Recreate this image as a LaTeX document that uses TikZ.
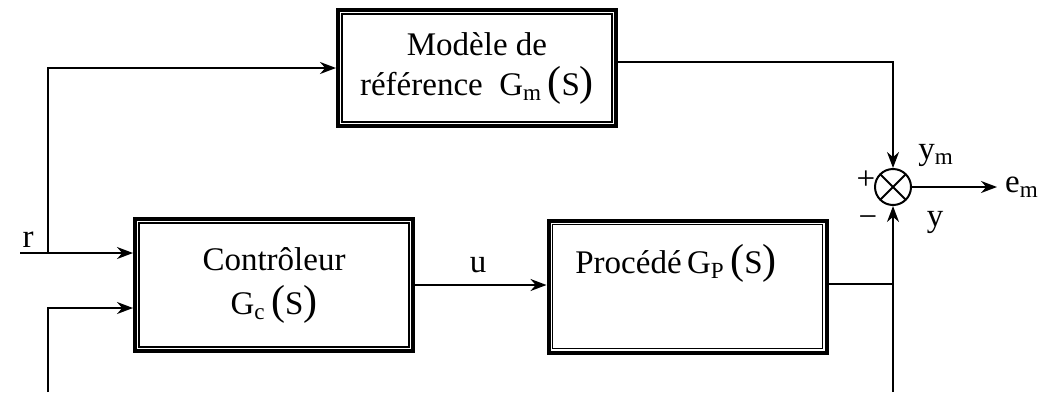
\documentclass[tikz,border=0pt]{standalone}
\usepackage{fontspec}
\setmainfont{Liberation Serif}
\usetikzlibrary{arrows.meta,positioning}

% grosses parentheses autour de S
\newcommand{\fonct}[1]{G\textsubscript{#1}\,{\fontsize{21}{21}\selectfont(}S{\fontsize{21}{21}\selectfont)}}

\tikzset{
  bloc/.style={draw, line width=2pt, minimum width=139pt, minimum height=66pt, align=center, inner sep=0pt},
  cadre/.style={line width=0.9pt},
  lien/.style={line width=1pt},
  fleche/.style={lien, -{Stealth[length=8pt,width=6pt]}},
  somme/.style={draw, circle, line width=1pt, minimum size=18pt, inner sep=0pt,
    path picture={\draw[line width=1pt] (path picture bounding box.south west) -- (path picture bounding box.north east)
                  (path picture bounding box.north west) -- (path picture bounding box.south east);}},
  etiq/.style={inner sep=0pt}
}

\begin{document}
\begin{tikzpicture}[x=0.5pt, y=-0.5pt, font=\fontsize{16.5}{20}\selectfont]
    \useasboundingbox (0,0) rectangle (1042,392);

    % blocs
    \node[bloc, minimum height=58pt] (modele) at (477,68) {Modèle de\\référence \ \fonct{m}};
    \node[bloc] (ctrl) at (274,285) {Contrôleur\\[2pt]\fonct{c}};
    \node[bloc] (proc) at (687.5,286.5) {};
    \node[etiq] (proctxt) at (676,263) {Procédé\,\fonct{P}};
    \foreach \b in {modele,ctrl,proc}
        \draw[cadre] ([shift={(3pt,3pt)}]\b.south west) rectangle ([shift={(-3pt,-3pt)}]\b.north east);

    % comparateur
    \node[somme] (sum) at (893,187) {};

    % points de connexion
    \coordinate (rin) at (20,253);
    \coordinate (rsplit) at (48,253);
    \coordinate (retour) at (48,392);
    \coordinate (entree2) at (48,308);
    \coordinate (ysplit) at (893,284);
    \coordinate (ybas) at (893,392);
    \coordinate (emout) at (997,187);

    % liaisons
    \draw[fleche] (rin) -- (ctrl.west |- rin);
    \draw[fleche] (rsplit) |- (modele.west);
    \draw[fleche] (retour) -- (entree2) -- (ctrl.west |- entree2);
    \draw[fleche] (ctrl.east) -- (proc.west |- ctrl.east);
    \draw[lien] (proc.east |- ysplit) -- (ysplit);
    \draw[fleche] (ybas) -- (sum.south);
    \draw[fleche] (modele.east |- 0,62) -| (sum.north);
    \draw[fleche] (sum.east) -- (emout);

    % etiquettes
    \node[etiq] (lr) at (28,240) {r};
    \node[etiq] (lu) at (478,265) {u};
    \node[etiq] (lym) at (936,155) {y\textsubscript{m}};
    \node[etiq] (lplus) at (866,180) {+};
    \node[etiq] (lmoins) at (868,222) {\textminus};
    \node[etiq] (ly) at (935,222) {y};
    \node[etiq] (lem) at (1022,187) {e\textsubscript{m}};
\end{tikzpicture}
\end{document}
